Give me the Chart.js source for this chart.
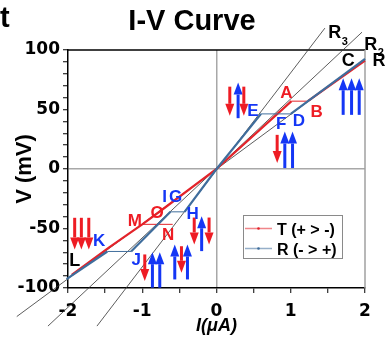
<!DOCTYPE html>
<html><head><meta charset="utf-8">
<script src="https://cdn.jsdelivr.net/npm/chart.js@4/dist/chart.umd.min.js"></script>
<style>html,body{margin:0;padding:0;background:#fff;overflow:hidden}#wrap{width:386px;height:342px}</style>
</head><body><div id="wrap"><canvas id="c" width="386" height="342"></canvas></div>
<script>
// ---- data ----
// T (+ > -) sweep: I (µA), V (mV); null = break
const tI = [2.0, 1.23, 1.01, 0, -0.76, -1.0, -1.45, -1.95, null, -1.0, -0.59];
const tV = [91, 57, 57, 0, -35.5, -46.5, -66, -89, null, -46.5, -46.5];
// R (- > +) sweep
const rI = [-2.02, -1.47, -1.15, -0.62, -0.43, 0, 0.6, 1.0, 2.0];
const rV = [-92.5, -69.3, -69.3, -36, -36, 0, 46.3, 46.3, 92.5];
// resistance guide lines R1, R2, R3 (end points)
const r1I = [-2.69, 2.0],  r1V = [-124, 92];
const r2I = [-2.27, 1.96], r2V = [-132, 115];
const r3I = [-1.61, 1.46], r3V = [-132, 118.4];
// point letters
const ptText = ['A','B','C','D','E','F','I','G','H','J','K','L','M','N','O'];
const ptI = [0.94, 1.35, 1.774, 1.11, 0.49, 0.87, -0.70, -0.55, -0.32, -1.08, -1.58, -1.91, -1.10, -0.65, -0.80];
const ptV = [65, 49, 92.2, 41.3, 49.7, 39, -23, -23, -36.9, -75.4, -59.8, -76, -42.5, -54.5, -36.4];
const ptKind = ['t','t','k','r','r','r','r','r','r','r','r','k','t','t','t'];
// guide line labels
const lineText = ['R','R','R'];
const lineSub = ['3','2','1'];
const lineI = [1.594, 2.078, 2.19];
const lineV = [115.3, 105.6, 91.6];
// spin arrows: current position, tail V, tip V
const arrowI = [0.179, 0.291, 0.368, 1.706, 1.819, 1.922, 0.817, 0.920, 1.024,
  -1.91, -1.82, -1.72, -0.966, -0.863, -0.764, -0.562, -0.472, -0.391, -0.30, -0.20, -0.10];
const arrowTail = [69.2, 42.7, 69.2, 45.5, 45.5, 45.5, 28.7, 0.8, 0.8,
  -41, -41, -41, -71.8, -99.7, -99.7, -92.8, -64.9, -92.8, -40.8, -69, -40.8];
const arrowTip = [44.7, 72.6, 44.7, 76.3, 76.3, 76.3, 5, 31.5, 31.5,
  -67.6, -67.6, -67.6, -94.2, -69.9, -69.9, -63.4, -87.2, -63.4, -63.4, -39.7, -63.4];
const seriesNames = ['T (+ > -)', 'R (- > +)'];
const xMin = -2, xMax = 2, yMin = -100, yMax = 100;

// ---- styles ----
const RED = '#e3232a', BLUE = '#3f6d9c', LRED = '#ee1c24', LBLUE = '#1436f5';
const kindColor = {t: LRED, r: LBLUE, k: '#000'};
const pts = (xs, ys) => xs.map((x, i) => ({x: x === null ? null : x, y: ys[i]}));

const guide = (xs, ys) => ({data: pts(xs, ys), borderColor: '#333', borderWidth: 0.8,
  pointRadius: 0, clip: false, order: 3, tension: 0});

const overlay = {
  id: 'overlay',
  beforeDatasetsDraw(chart) {
    const {ctx, chartArea: a} = chart;
    ctx.save();
    ctx.lineWidth = 1.5;
    ctx.strokeStyle = '#000';
    ctx.beginPath(); ctx.moveTo(a.left, a.top); ctx.lineTo(a.right, a.top); ctx.stroke();
    ctx.strokeStyle = '#a0a0a0';
    ctx.beginPath(); ctx.moveTo(a.right, a.top); ctx.lineTo(a.right, a.bottom); ctx.stroke();
    ctx.restore();
  },
  afterDatasetsDraw(chart) {
    const {ctx} = chart;
    const sx = chart.scales.x, sy = chart.scales.y;
    ctx.save();
    arrowI.forEach((xi, i) => {
      const x = sx.getPixelForValue(xi);
      const y0 = sy.getPixelForValue(arrowTail[i]);
      const y1 = sy.getPixelForValue(arrowTip[i]);
      const down = y1 > y0;
      const col = down ? LRED : LBLUE;
      const dir = down ? 1 : -1;
      const hl = 12, hw = 4.5;
      ctx.strokeStyle = col; ctx.fillStyle = col; ctx.lineWidth = 3;
      ctx.beginPath(); ctx.moveTo(x, y0); ctx.lineTo(x, y1 - dir * hl); ctx.stroke();
      ctx.beginPath(); ctx.moveTo(x, y1); ctx.lineTo(x - hw, y1 - dir * hl); ctx.lineTo(x + hw, y1 - dir * hl);
      ctx.closePath(); ctx.fill();
    });
    ctx.textAlign = 'center'; ctx.textBaseline = 'alphabetic';
    ptText.forEach((t, i) => {
      const size = ptKind[i] === 'k' ? 18 : 17;
      ctx.font = 'bold ' + size + 'px "Liberation Sans", Arial, sans-serif';
      ctx.fillStyle = kindColor[ptKind[i]];
      ctx.fillText(t, sx.getPixelForValue(ptI[i]), sy.getPixelForValue(ptV[i]) + size * 0.36);
    });
    lineText.forEach((t, i) => {
      const x = sx.getPixelForValue(lineI[i]), y = sy.getPixelForValue(lineV[i]);
      ctx.fillStyle = '#000';
      ctx.font = 'bold 18px "Liberation Sans", Arial, sans-serif';
      ctx.textAlign = 'center';
      ctx.fillText(t, x, y + 6.5);
      ctx.font = 'bold 11px "Liberation Sans", Arial, sans-serif';
      ctx.textAlign = 'left';
      ctx.fillText(lineSub[i], x + 7, y + 13);
    });
    ctx.restore();
  },
  afterDraw(chart) {
    const {ctx, chartArea: a} = chart;
    ctx.save();
    ctx.fillStyle = '#000';
    ctx.font = 'bold 29px "Liberation Sans", Arial, sans-serif';
    ctx.textAlign = 'center'; ctx.textBaseline = 'alphabetic';
    ctx.fillText('I-V Curve', 192, 30);
    ctx.textAlign = 'left';
    ctx.fillText('t', 0, 27);
    const lx = a.left + 175, ly = a.top + 165, lw = 99, lh = 43;
    ctx.fillStyle = '#fff'; ctx.fillRect(lx, ly, lw, lh);
    ctx.strokeStyle = '#8a8a8a'; ctx.lineWidth = 1;
    ctx.strokeRect(lx + 0.5, ly + 0.5, lw, lh);
    const ds = chart.data.datasets;
    [0, 1].forEach(k => {
      const y = ly + 13.5 + k * 20;
      ctx.globalAlpha = 0.55;
      ctx.strokeStyle = ds[k].borderColor; ctx.lineWidth = 1.5;
      ctx.beginPath(); ctx.moveTo(lx + 2, y); ctx.lineTo(lx + 29, y); ctx.stroke();
      ctx.globalAlpha = 1;
      ctx.fillStyle = ds[k].borderColor;
      ctx.beginPath(); ctx.arc(lx + 15.5, y, 1.3, 0, Math.PI * 2); ctx.fill();
      ctx.fillStyle = '#000';
      ctx.font = 'bold 16px "Liberation Sans", Arial, sans-serif';
      ctx.textAlign = 'left';
      ctx.fillText(ds[k].label, lx + 34, y + 6);
    });
    ctx.restore();
  }
};

const seg = {
  borderWidth: c => (c.p0.parsed.y === c.p1.parsed.y ? 1 : 2.2)
};

new Chart(document.getElementById('c'), {
  type: 'line',
  data: {
    datasets: [
      {label: seriesNames[0], data: pts(tI, tV), borderColor: RED, borderWidth: 2.2, pointRadius: 0,
        clip: false, order: 2, spanGaps: false, segment: seg},
      {label: seriesNames[1], data: pts(rI, rV), borderColor: BLUE, borderWidth: 2.2, pointRadius: 0,
        clip: false, order: 1, segment: seg},
      guide(r1I, r1V), guide(r2I, r2V), guide(r3I, r3V)
    ]
  },
  options: {
    responsive: false, animation: false, events: [],
    layout: {padding: {top: 50, right: 21, left: 0, bottom: 0}},
    plugins: {legend: {display: false}, tooltip: {enabled: false}, title: {display: false}},
    scales: {
      x: {
        type: 'linear', min: xMin, max: xMax,
        afterFit: s => { s.height = 54; },
        border: {color: '#000', width: 1.5},
        grid: {color: c => (c.tick && c.tick.value === 0 ? '#a8a8a8' : 'rgba(0,0,0,0)'), lineWidth: 1.5,
          tickColor: '#000', tickWidth: 1, tickLength: 5, drawOnChartArea: true},
        ticks: {stepSize: 0.5, autoSkip: false, maxRotation: 0, padding: 8, color: '#000',
          font: {family: '"DejaVu Sans"', weight: 'bold', size: 17},
          callback: v => (Number.isInteger(v) ? String(v) : '')},
        title: {display: true, text: 'I(\u03bcA)', color: '#000', padding: {top: 0, bottom: 5},
          font: {family: '"Liberation Sans", Arial', weight: 'bold', style: 'italic', size: 18}}
      },
      y: {
        type: 'linear', min: yMin, max: yMax,
        afterFit: s => { s.width = 68; },
        border: {color: '#000', width: 1.5},
        grid: {color: c => (c.tick && c.tick.value === 0 ? '#a8a8a8' : 'rgba(0,0,0,0)'), lineWidth: 1.5,
          tickColor: '#000', tickWidth: 1, tickLength: 5, drawOnChartArea: true},
        ticks: {stepSize: 10, autoSkip: false, padding: 3, color: '#000',
          font: {family: '"DejaVu Sans"', weight: 'bold', size: 17},
          callback: v => (v % 50 === 0 ? String(v) : '')},
        title: {display: true, text: 'V (mV)', color: '#000', padding: {top: 12, bottom: 0},
          font: {family: '"Liberation Sans", Arial', weight: 'bold', size: 22}}
      }
    }
  },
  plugins: [overlay]
});
</script>
</body></html>
